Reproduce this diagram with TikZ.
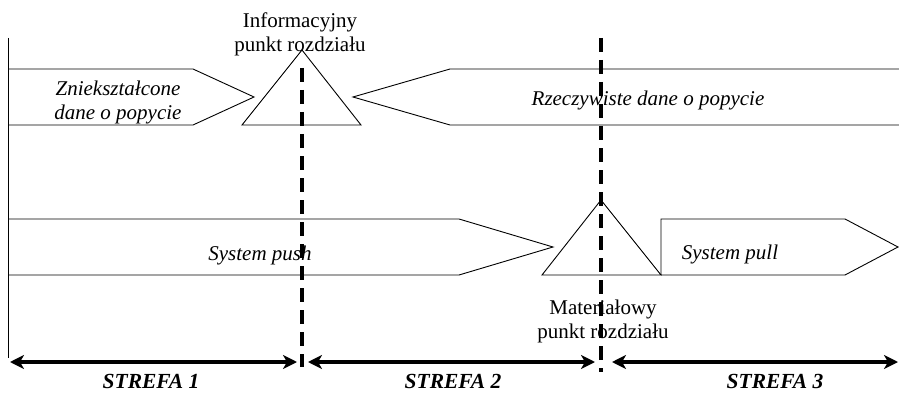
\documentclass[tikz,border=0pt]{standalone}
\usepackage{fontspec}
\setmainfont{Liberation Serif}
\usetikzlibrary{arrows.meta}
\begin{document}
\begin{tikzpicture}[x=1pt,y=-1pt,
  outline/.style={draw=black, line width=0.9pt, line join=miter},
  divider/.style={line width=3.2pt, dash pattern=on 14pt off 8pt},
  zonearrow/.style={line width=3.2pt,
    {Stealth[length=14pt,width=14pt,inset=4pt]}-{Stealth[length=14pt,width=14pt,inset=4pt]}},
  txt/.style={font=\fontsize{21}{24}\selectfont, align=center, inner sep=0pt},
  flowtxt/.style={txt, font=\fontsize{21}{24}\selectfont\itshape},
  zonetxt/.style={txt, font=\fontsize{21.5}{24}\selectfont\bfseries\itshape}]
\useasboundingbox (0,0) rectangle (899,393);

% left border line
\coordinate (axtop) at (8,38);
\coordinate (axbot) at (8,358);
\draw[outline] (axtop) -- (axbot);

% information flow (upper row)
\draw[outline] (8,69) -- (193,69) -- (254,97) -- (193,125) -- (8,125);
\draw[outline] (302,50) -- (361,125) -- (242,125) -- cycle;
\draw[outline] (899,69) -- (450,69) -- (353,97) -- (450,125) -- (899,125);

% material flow (lower row)
\draw[outline] (8,219) -- (459,219) -- (553,247) -- (459,275) -- (8,275);
\draw[outline] (601,200) -- (661,275) -- (542,275) -- cycle;
\draw[outline] (661,275) -- (661,219) -- (845,219) -- (898,247) -- (845,275) -- (661,275);

% texts
\node[flowtxt] (zdist) at (118,102) {Zniekształcone\\dane o popycie};
\node[flowtxt, anchor=base] (real) at (648,106) {Rzeczywiste dane o popycie};
\node[flowtxt, anchor=base] (push) at (260,260) {System push};
\node[flowtxt, anchor=base] (pull) at (730,259) {System pull};
\node[txt] (infop) at (300,34) {Informacyjny\\punkt rozdziału};
\node[txt] (matp) at (603,321) {Materiałowy\\punkt rozdziału};

% decoupling-point dividers
\coordinate (d1top) at (302,68);
\coordinate (d1bot) at (302,367);
\coordinate (d2top) at (601,38);
\coordinate (d2bot) at (601,372);
\draw[divider] (d1top) -- (d1bot);
\draw[divider] (d2top) -- (d2bot);

% zones
\coordinate (z1a) at (10,362);
\coordinate (z1b) at (297,362);
\coordinate (z2a) at (308,362);
\coordinate (z2b) at (595,362);
\coordinate (z3a) at (612,362);
\coordinate (z3b) at (898,362);
\draw[zonearrow] (z1a) -- (z1b);
\draw[zonearrow] (z2a) -- (z2b);
\draw[zonearrow] (z3a) -- (z3b);
\node[zonetxt, anchor=base] (s1) at (151,388) {STREFA 1};
\node[zonetxt, anchor=base] (s2) at (453,388) {STREFA 2};
\node[zonetxt, anchor=base] (s3) at (775,388) {STREFA 3};
\end{tikzpicture}
\end{document}
